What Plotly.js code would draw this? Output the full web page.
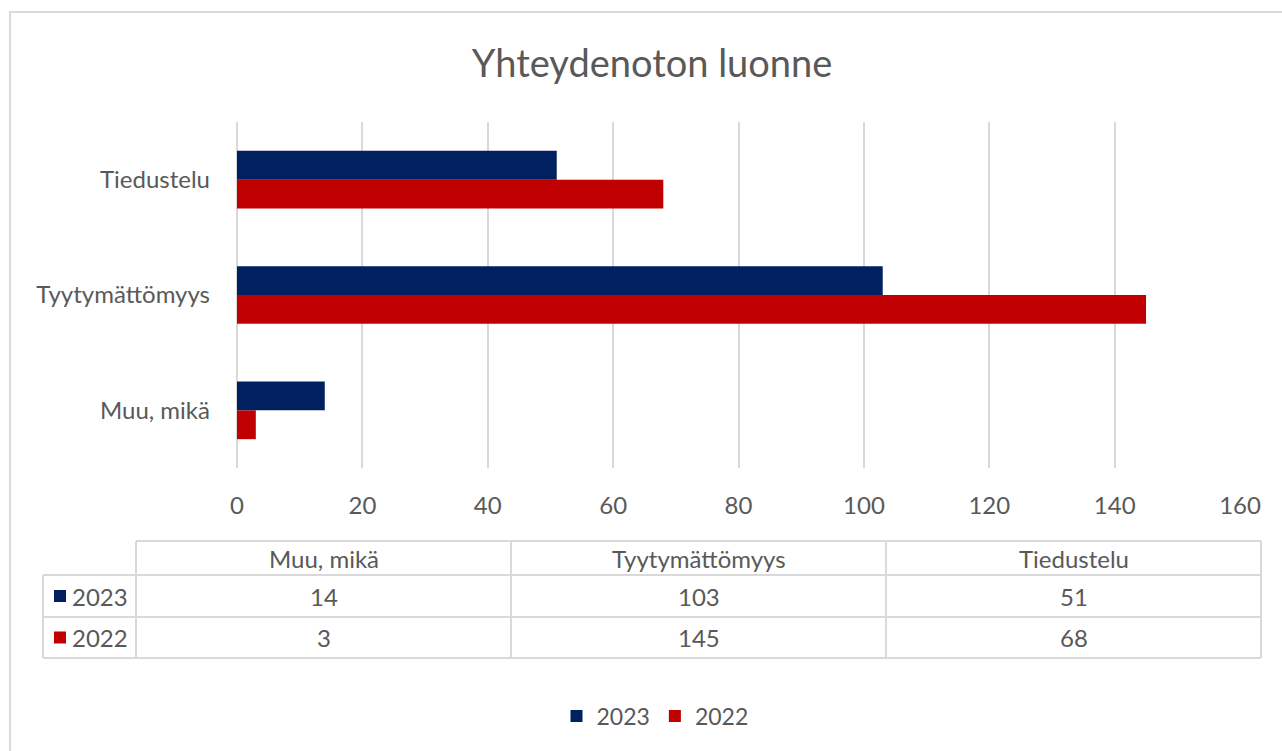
<!DOCTYPE html>
<html>
<head>
<meta charset="utf-8">
<script src="https://cdn.plot.ly/plotly-3.0.1.min.js"></script>
<style>html,body{margin:0;padding:0;background:#fff;}#chart{width:1282px;height:751px;}</style>
</head>
<body>
<div id="chart"></div>
<script>
// ---- data ----
const categories = ['Muu, mikä', 'Tyytymättömyys', 'Tiedustelu'];
const seriesNames = ['2023', '2022'];
const values2023 = [14, 103, 51];
const values2022 = [3, 145, 68];
const seriesColors = ['#002060', '#C00000'];
const xTickValues = [0, 20, 40, 60, 80, 100, 120, 140, 160];
const chartTitle = 'Yhteydenoton luonne';

// ---- layout helpers (pixel -> paper) ----
const W = 1282, H = 751;
const px = x => x / W;
const py = y => 1 - y / H;
const FONT = 'Lato, "Open Sans", sans-serif';
const TXT = '#595959';
const LINE = '#d9d9d9';
const FS = 24;

const seriesValues = [values2023, values2022];

// bars: 2022 drawn first so 2023 sits on top within each group
const traces = [1, 0].map(i => ({
  type: 'bar',
  orientation: 'h',
  name: seriesNames[i],
  y: categories,
  x: seriesValues[i],
  marker: {color: seriesColors[i], line: {width: 0}},
  hoverinfo: 'x+name'
}));

// ---- data table below the chart ----
const colEdges = [136, 511, 886, 1261];
const rowEdges = [541, 575, 617, 658];
const leftEdge = 43;
const shapes = [];
const annotations = [];

// outer chart border
shapes.push({type: 'rect', xref: 'paper', yref: 'paper',
  x0: px(10), x1: px(1300), y0: py(12), y1: py(770),
  line: {color: LINE, width: 2}, fillcolor: 'rgba(0,0,0,0)', layer: 'below'});

// horizontal lines
shapes.push({type: 'line', xref: 'paper', yref: 'paper', x0: px(colEdges[0]), x1: px(colEdges[3]), y0: py(rowEdges[0]), y1: py(rowEdges[0]), line: {color: LINE, width: 2}});
for (let r = 1; r < rowEdges.length; r++) {
  shapes.push({type: 'line', xref: 'paper', yref: 'paper', x0: px(leftEdge), x1: px(colEdges[3]), y0: py(rowEdges[r]), y1: py(rowEdges[r]), line: {color: LINE, width: 2}});
}
// vertical lines
shapes.push({type: 'line', xref: 'paper', yref: 'paper', x0: px(leftEdge), x1: px(leftEdge), y0: py(rowEdges[1]), y1: py(rowEdges[3]), line: {color: LINE, width: 2}});
colEdges.forEach(c => {
  shapes.push({type: 'line', xref: 'paper', yref: 'paper', x0: px(c), x1: px(c), y0: py(rowEdges[0]), y1: py(rowEdges[3]), line: {color: LINE, width: 2}});
});

// header cells
categories.forEach((cat, j) => {
  annotations.push({xref: 'paper', yref: 'paper', x: px((colEdges[j] + colEdges[j + 1]) / 2), y: py((rowEdges[0] + rowEdges[1]) / 2),
    text: cat, showarrow: false, xanchor: 'center', yanchor: 'middle', font: {family: FONT, size: FS, color: TXT}});
});
// data rows
seriesNames.forEach((name, i) => {
  const yc = (rowEdges[i + 1] + rowEdges[i + 2]) / 2;
  shapes.push({type: 'rect', xref: 'paper', yref: 'paper', x0: px(54), x1: px(66), y0: py(yc - 6), y1: py(yc + 6),
    fillcolor: seriesColors[i], line: {width: 0}});
  annotations.push({xref: 'paper', yref: 'paper', x: px(130), y: py(yc), text: name, showarrow: false,
    xanchor: 'right', yanchor: 'middle', font: {family: FONT, size: FS, color: TXT}});
  seriesValues[i].forEach((v, j) => {
    annotations.push({xref: 'paper', yref: 'paper', x: px((colEdges[j] + colEdges[j + 1]) / 2), y: py(yc),
      text: String(v), showarrow: false, xanchor: 'center', yanchor: 'middle', font: {family: FONT, size: FS, color: TXT}});
  });
});

const layout = {
  width: W, height: H,
  margin: {l: 0, r: 0, t: 0, b: 0},
  paper_bgcolor: '#fff', plot_bgcolor: '#fff',
  title: {text: chartTitle, x: px(652), xanchor: 'center', y: py(64), yanchor: 'middle',
    font: {family: FONT, size: 38, color: TXT}},
  barmode: 'group', bargap: 0.5, bargroupgap: 0,
  xaxis: {domain: [px(237), px(1241)], range: [0, 160.15], tickvals: xTickValues,
    showgrid: true, gridcolor: LINE, gridwidth: 2,
    zeroline: true, zerolinecolor: LINE, zerolinewidth: 2, showline: false,
    ticks: '', ticklabelstandoff: 21, tickfont: {family: FONT, size: FS, color: TXT}, fixedrange: true},
  yaxis: {domain: [py(468), py(122)], type: 'category', categoryorder: 'array', categoryarray: categories,
    showgrid: false, zeroline: false, showline: false, ticks: '', ticklabelstandoff: 26,
    tickfont: {family: FONT, size: FS, color: TXT}, fixedrange: true},
  showlegend: true,
  legend: {orientation: 'h', traceorder: 'reversed', x: px(655), xanchor: 'center', y: py(716), yanchor: 'middle',
    font: {family: FONT, size: 23, color: TXT}, itemwidth: 30},
  shapes: shapes,
  annotations: annotations
};

Plotly.newPlot('chart', traces, layout, {displayModeBar: false, staticPlot: true});
</script>
</body>
</html>
